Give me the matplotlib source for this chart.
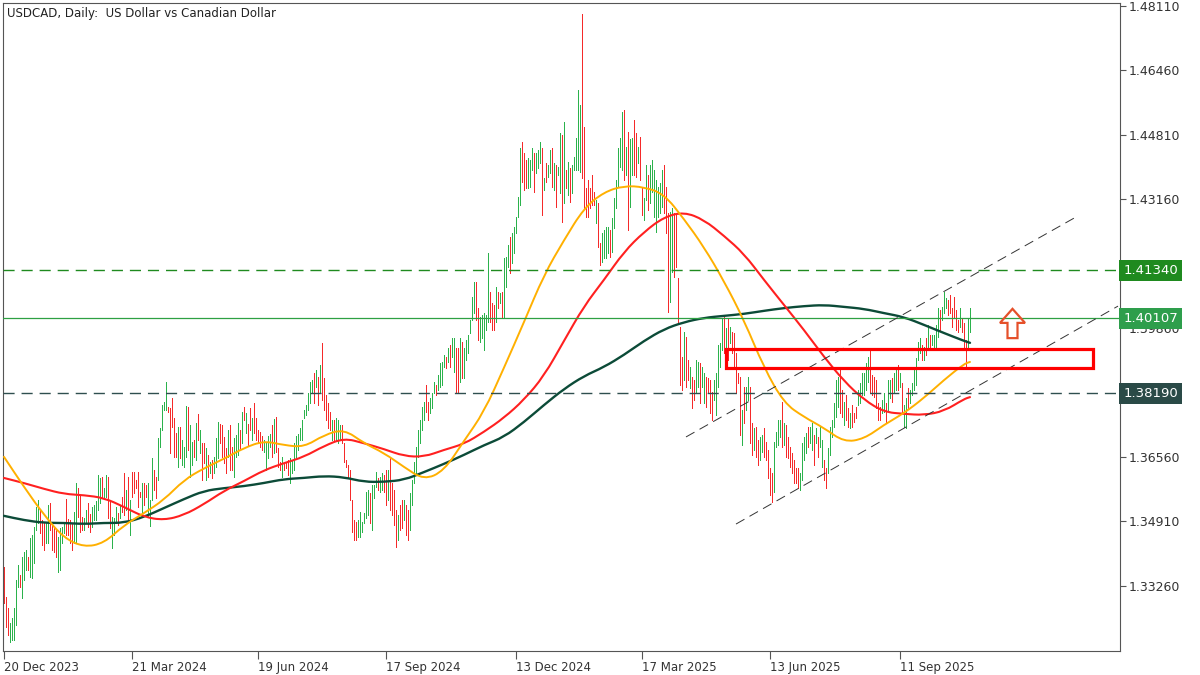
import matplotlib
matplotlib.use("Agg")  # no display
import matplotlib.pyplot as plt
import matplotlib.transforms as mtransforms
from matplotlib.patches import Rectangle, Polygon, PathPatch
from matplotlib.path import Path
import numpy as np

plt.rcParams["font.family"] = ["DejaVu Sans"]

# daily bars, USDCAD, 20 Dec 2023 .. late Oct 2025
highs = [
    1.3374, 1.3297, 1.3270, 1.3230, 1.3244, 1.3270, 1.3341, 1.3379, 1.3353, 1.3400,
    1.3413, 1.3418, 1.3400, 1.3449, 1.3456, 1.3476, 1.3528, 1.3546, 1.3520, 1.3494,
    1.3489, 1.3489, 1.3533, 1.3538, 1.3486, 1.3476, 1.3469, 1.3451, 1.3474, 1.3476,
    1.3489, 1.3548, 1.3497, 1.3494, 1.3486, 1.3515, 1.3589, 1.3576, 1.3559, 1.3502,
    1.3499, 1.3520, 1.3538, 1.3510, 1.3528, 1.3533, 1.3543, 1.3610, 1.3602, 1.3604,
    1.3576, 1.3610, 1.3604, 1.3546, 1.3502, 1.3499, 1.3528, 1.3512, 1.3533, 1.3553,
    1.3615, 1.3571, 1.3604,
    1.3546, 1.3617, 1.3617, 1.3597, 1.3617, 1.3566, 1.3589, 1.3589, 1.3584, 1.3589,
    1.3546, 1.3653, 1.3622, 1.3604, 1.3704, 1.3730, 1.3789, 1.3797, 1.3848, 1.3784,
    1.3781, 1.3807, 1.3756, 1.3717, 1.3733, 1.3733, 1.3699, 1.3681, 1.3786, 1.3784,
    1.3738, 1.3694, 1.3699, 1.3743, 1.3766, 1.3725, 1.3691, 1.3691, 1.3679, 1.3661,
    1.3643, 1.3648, 1.3656, 1.3704, 1.3745, 1.3740, 1.3738, 1.3707, 1.3679, 1.3725,
    1.3738, 1.3681, 1.3704, 1.3712, 1.3743, 1.3725, 1.3771, 1.3784, 1.3768, 1.3740,
    1.3781, 1.3756, 1.3794,
    1.3756, 1.3725, 1.3720, 1.3710, 1.3699, 1.3691, 1.3710, 1.3715, 1.3738, 1.3753,
    1.3758, 1.3679, 1.3643, 1.3656, 1.3640, 1.3643, 1.3648, 1.3653, 1.3648, 1.3691,
    1.3710, 1.3715, 1.3730, 1.3750, 1.3776, 1.3789, 1.3820, 1.3848, 1.3853, 1.3871,
    1.3878, 1.3861, 1.3891, 1.3948, 1.3858, 1.3815, 1.3794, 1.3771, 1.3750, 1.3750,
    1.3756, 1.3750, 1.3738, 1.3738, 1.3691, 1.3648, 1.3635, 1.3622, 1.3546, 1.3494,
    1.3489, 1.3494, 1.3515, 1.3489, 1.3512, 1.3566, 1.3571, 1.3564, 1.3584, 1.3584,
    1.3617, 1.3602, 1.3604, 1.3615, 1.3610,
    1.3622, 1.3622, 1.3653, 1.3589, 1.3571, 1.3520, 1.3507, 1.3533, 1.3546, 1.3546,
    1.3533, 1.3520, 1.3564, 1.3597, 1.3643, 1.3681, 1.3725, 1.3750, 1.3784, 1.3797,
    1.3840, 1.3797, 1.3807, 1.3820, 1.3848, 1.3840, 1.3866, 1.3897, 1.3899, 1.3917,
    1.3912, 1.3935, 1.3942, 1.3960, 1.3960, 1.3935, 1.3935, 1.3960, 1.3950, 1.3935,
    1.3955, 1.3968, 1.4006, 1.4065, 1.4104, 1.4104, 1.4037, 1.4014, 1.4019, 1.4024,
    1.4019, 1.4178, 1.4078, 1.4050, 1.4045, 1.4091, 1.4078, 1.4076, 1.4078, 1.4165,
    1.4168, 1.4199, 1.4219, 1.4229, 1.4245,
    1.4270, 1.4321, 1.4447, 1.4462, 1.4434, 1.4416, 1.4421, 1.4416, 1.4447, 1.4434,
    1.4434, 1.4442, 1.4462, 1.4447, 1.4370, 1.4409, 1.4403, 1.4442, 1.4447, 1.4409,
    1.4403, 1.4398, 1.4485, 1.4480, 1.4514, 1.4391, 1.4411, 1.4396, 1.4403, 1.4424,
    1.4473, 1.4596, 1.4557, 1.4790, 1.4501, 1.4344, 1.4365, 1.4344, 1.4378, 1.4334,
    1.4314, 1.4306, 1.4204, 1.4229, 1.4237, 1.4245, 1.4245, 1.4237, 1.4268, 1.4319,
    1.4365, 1.4447, 1.4473, 1.4539, 1.4544, 1.4450, 1.4488, 1.4470, 1.4473, 1.4519,
    1.4485, 1.4450, 1.4475, 1.4344, 1.4319,
    1.4403, 1.4378, 1.4403, 1.4416, 1.4391, 1.4365, 1.4347, 1.4357, 1.4391, 1.4403,
    1.4347, 1.4281, 1.4283, 1.4293, 1.4281, 1.4281, 1.4114, 1.3989, 1.3912, 1.3976,
    1.3963, 1.3904, 1.3886, 1.3861, 1.3853, 1.3904, 1.3899, 1.3897, 1.3886, 1.3871,
    1.3861, 1.3858, 1.3853, 1.3822, 1.3853, 1.3871, 1.3942, 1.3948, 1.4012, 1.4014,
    1.3986, 1.4012, 1.3989, 1.3976, 1.3973, 1.3922, 1.3871, 1.3861, 1.3776, 1.3835,
    1.3835, 1.3861, 1.3835, 1.3743, 1.3730, 1.3733, 1.3699, 1.3707, 1.3712, 1.3730,
    1.3694, 1.3674, 1.3627, 1.3615, 1.3694,
    1.3720, 1.3750, 1.3750, 1.3797, 1.3743, 1.3738, 1.3707, 1.3681, 1.3666, 1.3648,
    1.3628, 1.3628, 1.3615, 1.3691, 1.3707, 1.3717, 1.3733, 1.3733, 1.3743, 1.3712,
    1.3730, 1.3707, 1.3733, 1.3699, 1.3648, 1.3628, 1.3679, 1.3733, 1.3750, 1.3794,
    1.3853, 1.3861, 1.3884, 1.3827, 1.3797, 1.3815, 1.3781, 1.3768, 1.3789, 1.3768,
    1.3784, 1.3827, 1.3845, 1.3871, 1.3871, 1.3897, 1.3912, 1.3930, 1.3866, 1.3861,
    1.3853, 1.3794, 1.3784, 1.3802, 1.3820, 1.3794, 1.3853, 1.3853, 1.3858, 1.3871,
    1.3884, 1.3891,
    1.3871, 1.3845, 1.3789, 1.3807, 1.3832, 1.3827, 1.3845, 1.3878, 1.3909, 1.3950,
    1.3960, 1.3942, 1.3937, 1.3960, 1.3994, 1.3968, 1.3968, 1.3968, 1.3994, 1.4037,
    1.4032, 1.4040, 1.4078, 1.4063, 1.4058, 1.4071, 1.4037, 1.4065, 1.4032, 1.4006,
    1.4037, 1.4012, 1.3999, 1.3955, 1.4012, 1.4037,
]
lows = [
    1.3282, 1.3220, 1.3200, 1.3182, 1.3187, 1.3187, 1.3225, 1.3323, 1.3323, 1.3295,
    1.3341, 1.3366, 1.3366, 1.3348, 1.3346, 1.3384, 1.3469, 1.3486, 1.3461, 1.3430,
    1.3418, 1.3435, 1.3435, 1.3469, 1.3418, 1.3413, 1.3400, 1.3361, 1.3366, 1.3435,
    1.3461, 1.3456, 1.3456, 1.3435, 1.3418, 1.3435, 1.3435, 1.3502, 1.3464, 1.3469,
    1.3469, 1.3486, 1.3476, 1.3464, 1.3476, 1.3494, 1.3494, 1.3520, 1.3538, 1.3553,
    1.3553, 1.3553, 1.3499, 1.3474, 1.3423, 1.3456, 1.3486, 1.3481, 1.3499, 1.3515,
    1.3507, 1.3520, 1.3494,
    1.3456, 1.3553, 1.3564, 1.3576, 1.3528, 1.3553, 1.3515, 1.3533, 1.3553, 1.3502,
    1.3479, 1.3546, 1.3571, 1.3551, 1.3597, 1.3681, 1.3725, 1.3776, 1.3776, 1.3771,
    1.3666, 1.3733, 1.3656, 1.3656, 1.3630, 1.3653, 1.3635, 1.3630, 1.3656, 1.3674,
    1.3604, 1.3635, 1.3656, 1.3648, 1.3699, 1.3666, 1.3597, 1.3640, 1.3597, 1.3604,
    1.3615, 1.3602, 1.3615, 1.3630, 1.3653, 1.3691, 1.3656, 1.3640, 1.3615, 1.3656,
    1.3622, 1.3622, 1.3604, 1.3656, 1.3661, 1.3679, 1.3691, 1.3750, 1.3717, 1.3686,
    1.3725, 1.3699, 1.3717,
    1.3699, 1.3691, 1.3681, 1.3674, 1.3669, 1.3622, 1.3653, 1.3681, 1.3656, 1.3666,
    1.3669, 1.3630, 1.3622, 1.3604, 1.3622, 1.3628, 1.3610, 1.3589, 1.3615, 1.3622,
    1.3656, 1.3674, 1.3699, 1.3699, 1.3756, 1.3763, 1.3776, 1.3794, 1.3820, 1.3794,
    1.3835, 1.3789, 1.3820, 1.3802, 1.3776, 1.3750, 1.3730, 1.3725, 1.3699, 1.3699,
    1.3699, 1.3691, 1.3699, 1.3691, 1.3643, 1.3630, 1.3604, 1.3546, 1.3464, 1.3443,
    1.3443, 1.3451, 1.3451, 1.3464, 1.3486, 1.3499, 1.3507, 1.3486, 1.3469, 1.3551,
    1.3579, 1.3571, 1.3566, 1.3571, 1.3566,
    1.3533, 1.3546, 1.3520, 1.3507, 1.3481, 1.3425, 1.3443, 1.3469, 1.3474, 1.3494,
    1.3456, 1.3443, 1.3469, 1.3533, 1.3589, 1.3615, 1.3656, 1.3691, 1.3725, 1.3750,
    1.3771, 1.3750, 1.3768, 1.3781, 1.3820, 1.3815, 1.3827, 1.3835, 1.3840, 1.3886,
    1.3884, 1.3899, 1.3886, 1.3912, 1.3873, 1.3822, 1.3820, 1.3848, 1.3858, 1.3858,
    1.3904, 1.3922, 1.3973, 1.4006, 1.4024, 1.4006, 1.3955, 1.3950, 1.3960, 1.3930,
    1.3981, 1.4001, 1.4001, 1.3981, 1.3981, 1.4001, 1.4037, 1.4050, 1.4014, 1.4014,
    1.4091, 1.4142, 1.4127, 1.4153, 1.4178,
    1.4229, 1.4270, 1.4301, 1.4360, 1.4339, 1.4344, 1.4344, 1.4347, 1.4391, 1.4334,
    1.4383, 1.4396, 1.4409, 1.4275, 1.4339, 1.4360, 1.4373, 1.4383, 1.4347, 1.4339,
    1.4296, 1.4378, 1.4332, 1.4258, 1.4306, 1.4344, 1.4327, 1.4309, 1.4332, 1.4391,
    1.4391, 1.4391, 1.4386, 1.4370, 1.4293, 1.4270, 1.4270, 1.4293, 1.4301, 1.4301,
    1.4255, 1.4193, 1.4147, 1.4155, 1.4165, 1.4165, 1.4178, 1.4168, 1.4181, 1.4242,
    1.4293, 1.4347, 1.4398, 1.4391, 1.4365, 1.4378, 1.4237, 1.4296, 1.4378, 1.4378,
    1.4373, 1.4409, 1.4365, 1.4275, 1.4263,
    1.4314, 1.4288, 1.4306, 1.4334, 1.4270, 1.4232, 1.4270, 1.4281, 1.4296, 1.4281,
    1.4229, 1.4027, 1.4053, 1.4130, 1.4117, 1.4142, 1.3999, 1.3840, 1.3827, 1.3853,
    1.3835, 1.3853, 1.3832, 1.3781, 1.3802, 1.3820, 1.3835, 1.3794, 1.3835, 1.3794,
    1.3784, 1.3820, 1.3768, 1.3750, 1.3802, 1.3763, 1.3835, 1.3886, 1.3930, 1.3922,
    1.3935, 1.3904, 1.3948, 1.3922, 1.3886, 1.3820, 1.3845, 1.3712, 1.3686, 1.3743,
    1.3776, 1.3802, 1.3691, 1.3661, 1.3674, 1.3656, 1.3635, 1.3648, 1.3669, 1.3656,
    1.3648, 1.3602, 1.3559, 1.3541, 1.3566,
    1.3681, 1.3686, 1.3707, 1.3681, 1.3686, 1.3656, 1.3653, 1.3630, 1.3615, 1.3589,
    1.3589, 1.3576, 1.3571, 1.3597, 1.3648, 1.3666, 1.3681, 1.3691, 1.3674, 1.3635,
    1.3691, 1.3656, 1.3681, 1.3630, 1.3597, 1.3576, 1.3615, 1.3661, 1.3707, 1.3733,
    1.3758, 1.3784, 1.3768, 1.3758, 1.3738, 1.3750, 1.3733, 1.3730, 1.3733, 1.3745,
    1.3756, 1.3789, 1.3794, 1.3815, 1.3815, 1.3827, 1.3848, 1.3820, 1.3815, 1.3810,
    1.3781, 1.3750, 1.3750, 1.3768, 1.3771, 1.3743, 1.3776, 1.3807, 1.3797, 1.3820,
    1.3827, 1.3827,
    1.3835, 1.3768, 1.3733, 1.3730, 1.3781, 1.3794, 1.3815, 1.3827, 1.3840, 1.3904,
    1.3922, 1.3904, 1.3904, 1.3917, 1.3937, 1.3937, 1.3942, 1.3937, 1.3937, 1.3963,
    1.3981, 1.4006, 1.4024, 1.4037, 1.4019, 1.4024, 1.3989, 1.4012, 1.3981, 1.3976,
    1.3989, 1.3976, 1.3935, 1.3886, 1.3930, 1.3976,
]
# g = bull bar, r = bear bar
sides = (
    "rrrgggggrg" "ggrgggggrr" "rggrrrrggg" "grrrrggrrr" "ggrrgggggr" "ggrrgggrgr" "rgr"
    "grrrrrgrrg" "ggrrgggggr" "rrrrgrgggr" "ggrgrgrrgr" "grgggrrrrg" "rrgggrgrgr" "rgr"
    "rrrrggggrg" "rrrgrrrggg" "gggggggggr" "grgrrrrrgr" "gggrrrrrrr" "rggggggrgg" "grggr"
    "rgrrrrgrrg" "rrgggggggg" "rrgggrgggg" "rgrggrrgrg" "gggggrrggg" "ggrrrgrgrg" "ggrgg"
    "gggrrrgggr" "gggrgrggrg" "rggrgrgrgg" "gggrrrrrrr" "grrggggrgg" "ggggrgrggr" "rgrrg"
    "grgggggggr" "rrggrrrrrg" "rrgrrggrgg" "rrrrgggggr" "grgrrrrrgr" "ggrrgrrggr" "rrrrg"
    "gggrgrrrrr" "rrggggrggr" "grggrrgggg" "ggrrgrrgrr" "rggggggrrr" "rrrggrggrg" "gr"
    "grggrggggg" "grgrgrgggg" "rgggrrrrrr" "grrrgg"
)

# moving averages, sampled every 10 bars (+ last bar)
ma_bars = list(range(0, 481, 10)) + [483]
ma_fast = [
    1.3656, 1.3579, 1.3507, 1.3448, 1.3425, 1.3435, 1.3481, 1.3512, 1.3546, 1.3597,
    1.3627, 1.3651, 1.3679, 1.3697, 1.3686, 1.3681, 1.3712, 1.3727, 1.3691, 1.3666,
    1.3630, 1.3597, 1.3620, 1.3697, 1.3771, 1.3884, 1.4001, 1.4122, 1.4211, 1.4293,
    1.4334, 1.4350, 1.4347, 1.4329, 1.4265, 1.4193, 1.4106, 1.4006, 1.3884, 1.3794,
    1.3758, 1.3730, 1.3694, 1.3702, 1.3738, 1.3768, 1.3807, 1.3853, 1.3894, 1.3899,
]
ma_mid = [
    1.3602, 1.3589, 1.3574, 1.3561, 1.3558, 1.3551, 1.3528, 1.3502, 1.3494, 1.3507,
    1.3535, 1.3569, 1.3594, 1.3622, 1.3640, 1.3656, 1.3684, 1.3704, 1.3691, 1.3676,
    1.3658, 1.3656, 1.3674, 1.3689, 1.3720, 1.3756, 1.3802, 1.3863, 1.3953, 1.4042,
    1.4109, 1.4181, 1.4232, 1.4270, 1.4283, 1.4263, 1.4222, 1.4176, 1.4109, 1.4045,
    1.3981, 1.3912, 1.3850, 1.3802, 1.3771, 1.3766, 1.3763, 1.3773, 1.3804, 1.3809,
]
ma_slow = [
    1.3505, 1.3494, 1.3487, 1.3487, 1.3484, 1.3487, 1.3487, 1.3502, 1.3525, 1.3548,
    1.3569, 1.3576, 1.3581, 1.3589, 1.3599, 1.3602, 1.3607, 1.3604, 1.3592, 1.3592,
    1.3597, 1.3617, 1.3638, 1.3661, 1.3686, 1.3707, 1.3745, 1.3789, 1.3830, 1.3863,
    1.3886, 1.3917, 1.3953, 1.3983, 1.4001, 1.4012, 1.4017, 1.4022, 1.4030, 1.4037,
    1.4042, 1.4045, 1.4040, 1.4035, 1.4024, 1.4014, 1.3994, 1.3973, 1.3953, 1.3948,
]

price_ticks = [1.48110, 1.46460, 1.44810, 1.43160, 1.41510, 1.39860,
               1.38210, 1.36560, 1.34910, 1.33260]
date_ticks = [0, 64, 127, 191, 256, 319, 383, 448]
date_labels = ["20 Dec 2023", "21 Mar 2024", "19 Jun 2024", "17 Sep 2024",
               "13 Dec 2024", "17 Mar 2025", "13 Jun 2025", "11 Sep 2025"]

resistance = 1.41340
bid = 1.40107
support = 1.38190

# trend channel (bar, price) ends and the demand zone
upper_bars, upper_prices = [341, 537], [1.3707, 1.4273]
lower_bars, lower_prices = [366, 557], [1.3484, 1.4042]
zone_bars, zone_prices = [361, 544.5], [1.3884, 1.3932]
arrow_bar, arrow_price = 504.25, 1.3960

BULL, BEAR = "#2bb24c", "#f52a2a"


def smooth_line(ax, xs, ys, **kw):
    """Draw the sampled MA as a quadratic-bezier path (rounded corners)."""
    pts = np.column_stack([xs, ys])
    mids = (pts[:-1] + pts[1:]) / 2
    verts = [pts[0], mids[0]]
    codes = [Path.MOVETO, Path.LINETO]
    for i in range(1, len(pts) - 1):
        verts += [pts[i], mids[i]]
        codes += [Path.CURVE3, Path.CURVE3]
    verts.append(pts[-1])
    codes.append(Path.LINETO)
    ax.add_patch(PathPatch(Path(verts, codes), fill=False, capstyle="round", **kw))


fig = plt.figure(figsize=(12, 6.75), dpi=100)
ax = fig.add_axes([3 / 1200, 24 / 675, 1117 / 1200, 648 / 675])

n = min(len(highs), len(lows), len(sides))
idx = np.arange(n)
cols = [BULL if s == "g" else BEAR for s in sides[:n]]
ax.vlines(idx, lows[:n], highs[:n], colors=cols, linewidth=0.72,
          antialiased=False, zorder=2)

smooth_line(ax, ma_bars, ma_slow, edgecolor="#0c4b38", lw=1.7, zorder=3)
smooth_line(ax, ma_bars, ma_mid, edgecolor="#ff2020", lw=1.5, zorder=3)
smooth_line(ax, ma_bars, ma_fast, edgecolor="#ffb000", lw=1.4, zorder=3)

ax.axhline(resistance, color="#1f8a1f", lw=1.0, dashes=(8, 5), zorder=4)
ax.axhline(bid, color="#2ea043", lw=0.9, zorder=4)
ax.axhline(support, color="#2f4f4f", lw=1.0, dashes=(8, 5), zorder=4)

ax.plot(upper_bars, upper_prices, color="#333333", lw=0.7, dashes=(10, 6), zorder=4)
ax.plot(lower_bars, lower_prices, color="#333333", lw=0.7, dashes=(10, 6), zorder=4)

ax.add_patch(Rectangle((zone_bars[0], zone_prices[0]), zone_bars[1] - zone_bars[0],
                       zone_prices[1] - zone_prices[0], fill=False,
                       edgecolor="#ff0000", lw=2.3, zorder=5))

# hollow up arrow
hw, sw, hh, sh = 6.25, 2.5, 0.0036, 0.0039
ax.add_patch(Polygon([(arrow_bar, arrow_price + sh + hh),
                      (arrow_bar + hw, arrow_price + sh),
                      (arrow_bar + sw, arrow_price + sh),
                      (arrow_bar + sw, arrow_price),
                      (arrow_bar - sw, arrow_price),
                      (arrow_bar - sw, arrow_price + sh),
                      (arrow_bar - hw, arrow_price + sh)],
                     closed=True, fill=False, edgecolor="#e5502a", lw=1.6, zorder=5))

ax.set_xlim(-0.5, 558)
ax.set_ylim(1.3159, 1.4818)

ax.yaxis.tick_right()
ax.set_yticks(price_ticks)
# 1.38210 sits fully under the 1.38190 marker box, so its label is left blank
ax.set_yticklabels(["" if abs(v - support) < 0.0005 else f"{v:.5f}" for v in price_ticks])
ax.tick_params(axis="y", length=4, width=0.8, colors="#555555",
               labelcolor="#333333", labelsize=9, pad=2)
ax.set_xticks(date_ticks)
ax.set_xticklabels(date_labels)
for lbl in ax.get_xticklabels():
    lbl.set_ha("left")
ax.tick_params(axis="x", length=6, width=0.8, colors="#555555",
               labelcolor="#333333", labelsize=8.5, pad=1)
for sp in ax.spines.values():
    sp.set_color("#555555")
    sp.set_linewidth(0.8)

trans = mtransforms.blended_transform_factory(ax.transAxes, ax.transData)
for val, fc in [(resistance, "#1f8a1f"), (bid, "#2e9e4c"), (support, "#2a4a47")]:
    ax.text(1.003, val, f"{val:.5f}", transform=trans, ha="left", va="center",
            color="white", fontsize=9.5, clip_on=False, zorder=6,
            bbox=dict(boxstyle="square,pad=0.3", fc=fc, ec="none"))

fig.text(7 / 1200, 1 - 13 / 675, "USDCAD, Daily:  US Dollar vs Canadian Dollar",
         fontsize=8.5, color="#222222", ha="left", va="center")

fig.savefig("out.png", dpi=100)
